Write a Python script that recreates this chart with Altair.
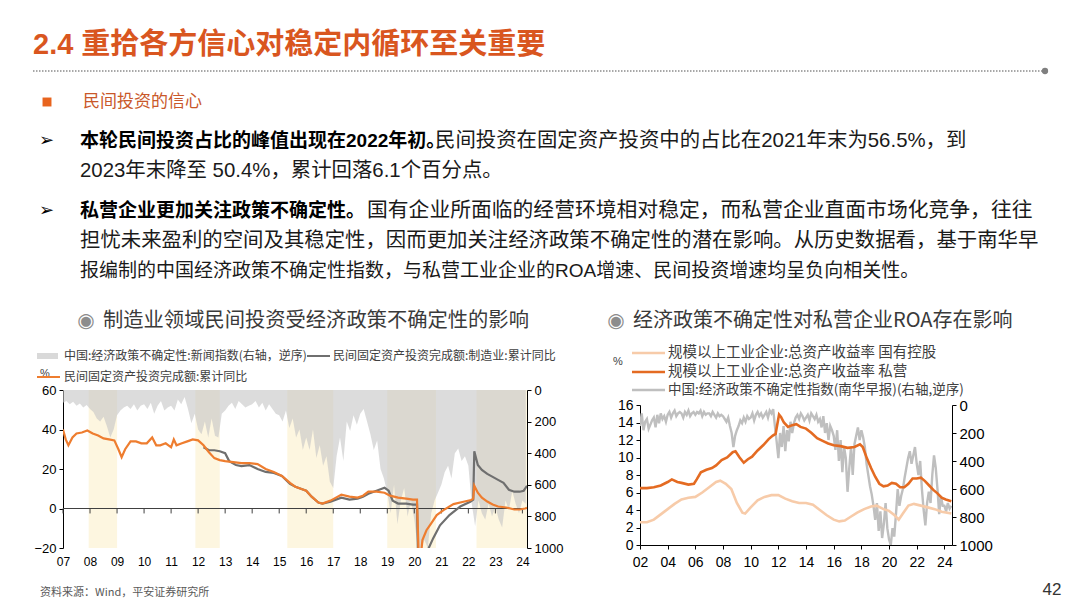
import altair as alt
import pandas as pd

# ---------------- data ----------------
band_start = [2007.95, 2011.9, 2015.3, 2019.0, 2022.3]
band_end = [2009.0, 2012.8, 2017.0, 2020.8, 2024.17]

unc_start, unc_step = 2007.0, 0.125
unc_news = [
    80, 70, 90, 75, 100, 85, 110, 95,
    120, 140, 180, 200, 170, 230, 300, 250,
    160, 130, 110, 100, 120, 90, 130, 100,
    90, 120, 80, 150, 100, 70, 130, 110,
    100, 130, 60, 90, 45, 120, 210, 150,
    250, 280, 200, 300, 180, 290, 300, 150,
    130, 100, 80, 120, 70, 90, 110, 100,
    90, 70, 110, 80, 130, 90, 120, 150,
    160, 200, 130, 240, 180, 300, 250, 380,
    300, 380, 250, 430, 350, 480, 420, 580,
    620, 420, 300, 450, 200, 260, 160, 220,
    150, 120, 200, 280, 380, 320, 500, 560,
    650, 780, 600, 850, 700, 620, 800, 700,
    820, 1000, 1000, 950, 1000, 780, 700, 650,
    600, 520, 480, 560, 400, 370, 450, 420,
    480, 720, 860, 700, 780, 820, 720, 800,
    740, 820, 870, 700, 760, 640, 720, 780,
    700, 720,
]

fai_x = [2007.0, 2007.1, 2007.2, 2007.35, 2007.5, 2007.7, 2007.9, 2008.1, 2008.3, 2008.5,
         2008.7, 2008.9, 2009.05, 2009.17, 2009.3, 2009.5, 2009.7, 2009.9, 2010.1, 2010.3,
         2010.45, 2010.6, 2010.8, 2011.0, 2011.1, 2011.2, 2011.4, 2011.6, 2011.8, 2012.0,
         2012.2, 2012.4, 2012.6, 2012.8, 2013.0, 2013.3, 2013.6, 2013.9, 2014.2, 2014.5,
         2014.8, 2015.1, 2015.4, 2015.6, 2015.8, 2016.0, 2016.2, 2016.45, 2016.6, 2016.9,
         2017.1, 2017.3, 2017.6, 2017.9, 2018.1, 2018.3, 2018.6, 2018.9, 2019.1, 2019.4,
         2019.7, 2019.95, 2020.1, 2020.18, 2020.3, 2020.45, 2020.6, 2020.83, 2021.08, 2021.45,
         2021.82, 2022.1, 2022.18, 2022.22, 2022.35, 2022.5, 2022.7, 2022.9, 2023.1, 2023.4,
         2023.7, 2023.9, 2024.1, 2024.17]
fai_total = [40, 35, 32, 36, 38, 38.5, 39.5, 38, 37, 35.5,
             35, 34.5, 30, 26, 30, 34, 34, 33, 33, 36,
             32, 32, 33, 31, 35, 32, 33, 34, 35, 34.5,
             32, 28.5, 25.5, 24.5, 24, 23.5, 23, 23, 22.5, 20,
             18.5, 16.5, 13, 11, 10, 9, 6, 3, 2.5, 4,
             5.5, 7, 6, 5.5, 6.5, 8.5, 8.5, 8, 6.5, 5.5,
             5, 4.5, 4.5, -33, -16, -11, -8, -3.3, -0.8, 2.2,
             3.4, 4.3, 5, 11.5, 8, 5.5, 3.5, 2, 1, 0.5,
             -0.5, -0.5, 0, 0.3]

manu_x = [2012.2, 2012.4, 2012.6, 2012.8, 2013.0, 2013.15, 2013.4, 2013.6, 2013.9, 2014.2,
          2014.5, 2014.8, 2015.1, 2015.4, 2015.6, 2015.8, 2016.0, 2016.2, 2016.45, 2016.6,
          2016.9, 2017.1, 2017.3, 2017.6, 2017.9, 2018.1, 2018.3, 2018.6, 2018.9, 2019.05,
          2019.2, 2019.4, 2019.7, 2019.95, 2020.1, 2020.15, 2020.3, 2020.5, 2020.7, 2020.95,
          2021.3, 2021.7, 2022.07, 2022.18, 2022.22, 2022.35, 2022.5, 2022.7, 2022.9, 2023.1,
          2023.3, 2023.5, 2023.7, 2023.9, 2024.05, 2024.17]
manu_fai = [31, 29.5, 29.5, 29, 28, 24, 22, 21.5, 22, 20,
            18.5, 18, 16.5, 12.5, 11, 10, 9, 6, 3, 2.5,
            3.5, 4.5, 5.5, 4.5, 5, 6, 7.5, 9, 10.5, 9,
            4, 2.5, 2.5, 2, 2, -33, -30, -21, -15, -8.5,
            -3.3, 1, 3.4, 4.5, 29, 22, 19.5, 17.5, 16, 14.5,
            13, 9.5, 8.5, 8.5, 9, 11.5]

roa_pri_x = [2002.0, 2002.5, 2003.0, 2003.5, 2004.0, 2004.3, 2004.7, 2005.0, 2005.5, 2005.9,
             2006.1, 2006.4, 2006.8, 2007.2, 2007.5, 2007.9, 2008.3, 2008.7, 2008.9, 2009.2,
             2009.5, 2009.8, 2010.1, 2010.5, 2010.9, 2011.3, 2011.6, 2011.8, 2012.05, 2012.2,
             2012.4, 2012.7, 2013.0, 2013.3, 2013.6, 2014.0, 2014.4, 2014.8, 2015.2, 2015.6,
             2016.0, 2016.5, 2017.0, 2017.5, 2017.9, 2018.1, 2018.4, 2018.7, 2019.0, 2019.3,
             2019.6, 2019.9, 2020.2, 2020.5, 2020.8, 2021.1, 2021.4, 2021.7, 2022.0, 2022.3,
             2022.6, 2022.9, 2023.2, 2023.5, 2023.8, 2024.1, 2024.5]
roa_private = [6.5, 6.5, 6.6, 6.8, 7.2, 7.5, 7.2, 7.1, 6.9, 7.0,
               7.5, 8.3, 8.6, 8.8, 9.1, 9.7, 10.0, 10.6, 10.7, 10.0,
               9.4, 9.8, 10.1, 10.8, 11.4, 12.1, 12.5, 12.7, 14.9, 14.6,
               14.0, 13.5, 13.7, 13.8, 13.5, 13.3, 12.8, 12.2, 11.9, 11.6,
               11.4, 11.3, 11.1, 11.2, 11.5, 11.2, 9.9, 8.8, 7.8, 7.0,
               6.7, 6.8, 7.1, 7.0, 6.6, 6.6, 7.0, 7.6, 7.6, 7.7,
               7.3, 6.8, 6.3, 5.9, 5.4, 5.2, 5.0]
roa_soe_x = [2002.0, 2002.5, 2003.0, 2003.5, 2004.0, 2004.5, 2005.0, 2005.5, 2006.0, 2006.5,
             2007.0, 2007.5, 2007.8, 2008.2, 2008.6, 2009.0, 2009.4, 2009.6, 2010.0, 2010.5,
             2011.0, 2011.5, 2012.0, 2012.5, 2013.0, 2013.5, 2014.0, 2014.5, 2015.0, 2015.5,
             2016.0, 2016.4, 2016.8, 2017.2, 2017.7, 2018.2, 2018.7, 2019.1, 2019.6, 2020.0,
             2020.4, 2020.7, 2021.0, 2021.4, 2021.8, 2022.3, 2022.8, 2023.3, 2023.8, 2024.5]
roa_soe = [2.6, 2.6, 2.9, 3.5, 4.1, 4.7, 5.2, 5.4, 5.5, 6.0,
           6.6, 7.2, 7.35, 7.0, 6.4, 4.8, 3.7, 3.6, 4.3, 5.1,
           5.5, 5.7, 5.7, 5.3, 5.0, 4.8, 4.8, 4.6, 4.0, 3.4,
           2.9, 2.7, 2.8, 3.2, 3.7, 4.1, 4.4, 4.5, 4.1, 3.9,
           3.4, 2.9, 3.6, 4.5, 4.7, 4.5, 4.3, 4.1, 3.8, 3.6]

scmp_start, scmp_step = 2002.0, 0.125
scmp_epu = [
    150, 60, 180, 120, 100, 170, 140, 110,
    90, 160, 70, 130, 60, 100, 80, 120,
    70, 50, 90, 60, 40, 80, 60, 50,
    60, 90, 50, 70, 40, 80, 60, 50,
    70, 50, 60, 40, 80, 50, 70, 60,
    60, 80, 50, 70, 90, 60, 80, 70,
    80, 100, 120, 90, 150, 200, 300, 220,
    180, 150, 110, 130, 90, 120, 80, 100,
    90, 60, 110, 70, 50, 80, 60, 90,
    70, 50, 90, 40, 60, 30, 150, 260,
    380, 200, 300, 150, 330, 180, 260, 120,
    200, 130, 90, 70, 100, 60, 80, 110,
    90, 70, 110, 60, 80, 100, 70, 120,
    100, 160, 80, 200, 130, 250, 150, 180,
    220, 320, 180, 400, 250, 480, 300, 380,
    620, 450, 300, 500, 280, 220, 160, 250,
    180, 230, 300, 420, 500, 580, 640, 720,
    820, 700, 900, 760, 950, 850, 700, 880,
    960, 1000, 880, 940, 780, 600, 720, 650,
    600, 520, 450, 380, 330, 420, 360, 300,
    420, 500, 400, 600, 750, 860, 700, 620,
    700, 500, 360, 450, 600, 780, 650, 720,
    720, 760, 700, 740, 720,
]

left_years = list(range(2007, 2025))
right_years = list(range(2002, 2025, 2))

# ---------------- tables ----------------
band_df = pd.DataFrame({"start": band_start, "end": band_end})
unc_df = pd.DataFrame({"x": [unc_start + i * unc_step for i in range(len(unc_news))], "v": unc_news})
fai_df = pd.DataFrame({"x": fai_x, "v": fai_total})
manu_df = pd.DataFrame({"x": manu_x, "v": manu_fai})
lyr_df = pd.DataFrame({"yr": left_years})
pri_df = pd.DataFrame({"x": roa_pri_x, "v": roa_private})
soe_df = pd.DataFrame({"x": roa_soe_x, "v": roa_soe})
scmp_df = pd.DataFrame({"x": [scmp_start + i * scmp_step for i in range(len(scmp_epu))], "v": scmp_epu})
DUMMY = pd.DataFrame({"a": [0]})

# ---------------- styles ----------------
CJK = "Noto Sans CJK SC"
BODY = "Liberation Sans, Noto Sans CJK SC"
AX = "Liberation Sans"
SYM = "DejaVu Sans"
ORANGE_T = "#D9561F"


def T(text, x, y, size, color="#000000", weight="normal", align="left", font=BODY):
    return alt.Chart(DUMMY).mark_text(
        text=text, align=align, baseline="middle", font=font, fontSize=size,
        fontWeight=weight, color=color
    ).encode(x=alt.value(x), y=alt.value(y))


def R(x1, x2, y, color, width, dash=None):
    kw = dict(color=color, strokeWidth=width)
    if dash:
        kw["strokeDash"] = dash
    return alt.Chart(DUMMY).mark_rule(**kw).encode(x=alt.value(x1), x2=alt.value(x2), y=alt.value(y))


# header origin sits above the left plot's left edge (page x 63, page y 8)
HX, HY = 63, 8
header = alt.layer(
    T("2.4 重拾各方信心对稳定内循环至关重要", 33 - HX, 45 - HY, 29, ORANGE_T, "bold"),
    R(33 - HX, 1045 - HX, 71 - HY, "#8c8c8c", 1.5, [1.5, 1.5]),
    alt.Chart(DUMMY).mark_circle(color="#7f7f7f", size=40, opacity=1).encode(
        x=alt.value(1045 - HX), y=alt.value(71 - HY)),
    alt.Chart(DUMMY).mark_square(color="#E8641E", size=80, opacity=1).encode(
        x=alt.value(47 - HX), y=alt.value(102 - HY)),
    T("民间投资的信心", 83 - HX, 102 - HY, 17, "#C9582A", font=CJK),
    T("➢", 39 - HX, 141 - HY, 18, "#000000", font=SYM),
    T("本轮民间投资占比的峰值出现在2022年初。", 80 - HX, 141 - HY, 19, "#000000", "bold"),
    T("民间投资在固定资产投资中的占比在2021年末为56.5%，到", 435 - HX, 141 - HY, 20.4, "#1a1a1a"),
    T("2023年末降至 50.4%，累计回落6.1个百分点。", 80 - HX, 171 - HY, 20.4, "#1a1a1a"),
    T("➢", 39 - HX, 211 - HY, 18, "#000000", font=SYM),
    T("私营企业更加关注政策不确定性。", 80 - HX, 211 - HY, 19, "#000000", "bold"),
    T("国有企业所面临的经营环境相对稳定，而私营企业直面市场化竞争，往往", 367 - HX, 211 - HY, 20.8, "#1a1a1a"),
    T("担忧未来盈利的空间及其稳定性，因而更加关注经济政策不确定性的潜在影响。从历史数据看，基于南华早",
      80 - HX, 241 - HY, 20.4, "#1a1a1a"),
    T("报编制的中国经济政策不确定性指数，与私营工业企业的ROA增速、民间投资增速均呈负向相关性。",
      80 - HX, 271 - HY, 19, "#1a1a1a"),
).properties(width=900, height=303)

# ---------------- left panel (plot origin at page 63, 390) ----------------
LX, LY = 63, 390
W1, H1 = 464, 158
xl_scale = alt.Scale(domain=[2007, 2024.17], nice=False, zero=False)
xl_axis = alt.Axis(values=left_years, labelExpr="format(datum.value - 2000, '02d')", domain=False,
                   ticks=False, grid=False, labelFont="Liberation Sans Narrow, Liberation Sans",
                   labelFontSize=12, labelColor="#000000", labelPadding=8, labelOverlap=False,
                   labelFlush=False, title=None)


def XL(field):
    return alt.X(field, type="quantitative", scale=xl_scale, axis=xl_axis)


yl_scale = alt.Scale(domain=[-20, 60], nice=False, zero=False)
yl_axis = alt.Axis(orient="left", values=[-20, 0, 20, 40, 60], grid=False, domainColor="#000000",
                   tickColor="#000000", tickSize=4, labelFont=AX, labelFontSize=13, labelColor="#000000",
                   labelPadding=3, minExtent=55, labelOverlap=False, format="d", title=None)
yr_scale = alt.Scale(domain=[0, 1000], reverse=True, nice=False, zero=False)
yr_axis = alt.Axis(orient="right", values=[0, 200, 400, 600, 800, 1000], grid=False, domainColor="#000000",
                   tickColor="#000000", tickSize=4, labelFont=AX, labelFontSize=13, labelColor="#000000",
                   labelPadding=3, minExtent=45, labelOverlap=False, format="d", title=None)

bands = alt.Chart(band_df).transform_calculate(b0="0", b1="1000").mark_rect(
    color="#FCEFC7", opacity=0.55).encode(
    x=XL("start"), x2="end",
    y=alt.Y("b0:Q", scale=yr_scale, axis=yr_axis), y2="b1:Q")
unc_area = alt.Chart(unc_df).transform_calculate(z="0").mark_area(
    color="#C4C4C4", opacity=0.6, interpolate="linear").encode(
    x=XL("x"), y=alt.Y("v:Q", scale=yr_scale, axis=yr_axis), y2="z:Q")
group_l1 = alt.layer(bands, unc_area)

zero_rule = alt.Chart(DUMMY).transform_calculate(z="0").mark_rule(color="#404040", strokeWidth=1).encode(
    y=alt.Y("z:Q", scale=yl_scale, axis=yl_axis))
year_ticks = alt.Chart(lyr_df).transform_calculate(z0="0", z1="-2.5").mark_rule(
    color="#404040", strokeWidth=1).encode(
    x=XL("yr"), y=alt.Y("z0:Q", scale=yl_scale, axis=yl_axis), y2="z1:Q")
manu_line = alt.Chart(manu_df).mark_line(color="#6F6F6F", strokeWidth=2.2, clip=True).encode(
    x=XL("x"), y=alt.Y("v:Q", scale=yl_scale, axis=yl_axis))
fai_line = alt.Chart(fai_df).mark_line(color="#EE7D2F", strokeWidth=2.2, clip=True).encode(
    x=XL("x"), y=alt.Y("v:Q", scale=yl_scale, axis=yl_axis))

left_texts = [
    T("◉", 86 - LX, 321 - LY, 20, "#8c8c8c", font=SYM, align="center"),
    T("制造业领域民间投资受经济政策不确定性的影响", 103 - LX, 321 - LY, 20.3, "#3a3a3a", font=CJK),
    R(37 - LX, 58 - LX, 356 - LY, "#D9D9D9", 6),
    T("中国:经济政策不确定性:新闻指数(右轴，逆序)", 64 - LX, 356 - LY, 12, "#404040", font=CJK),
    R(307 - LX, 330 - LX, 356 - LY, "#6F6F6F", 2),
    T("民间固定资产投资完成额:制造业:累计同比", 333 - LX, 356 - LY, 12, "#404040", font=CJK),
    T("%", 40 - LX, 374 - LY, 11, "#404040", font=AX),
    R(37 - LX, 60 - LX, 377 - LY, "#EE7D2F", 2),
    T("民间固定资产投资完成额:累计同比", 64 - LX, 377 - LY, 12, "#404040", font=CJK),
    T("资料来源：Wind，平安证券研究所", 40 - LX, 593 - LY, 11, "#595959", font=CJK),
]
group_l2 = alt.layer(zero_rule, year_ticks, manu_line, fai_line, *left_texts)

left_panel = alt.layer(group_l1, group_l2).resolve_scale(y="independent").properties(width=W1, height=H1)

# ---------------- right panel (plot origin at page 640, 390; data area 405..545) ----------------
RX, RY = 640, 390
W2, H2 = 312, 155
xr_scale = alt.Scale(domain=[2002, 2024.55], nice=False, zero=False)
xr_axis = alt.Axis(values=right_years, labelExpr="format(datum.value - 2000, '02d')", domain=True,
                   domainColor="#000000", ticks=True, tickColor="#000000", tickSize=4, grid=False,
                   labelFont=AX, labelFontSize=14, labelColor="#000000", labelPadding=6,
                   labelOverlap=False, labelFlush=False, title=None)


def XR(field):
    return alt.X(field, type="quantitative", scale=xr_scale, axis=xr_axis)


y2l_scale = alt.Scale(domain=[0, 16], range=[155, 15], nice=False, zero=False)
y2l_axis = alt.Axis(orient="left", values=list(range(0, 17, 2)), grid=False, domainColor="#000000",
                    tickColor="#000000", tickSize=4, labelFont=AX, labelFontSize=14, labelColor="#000000",
                    labelPadding=3, minExtent=48, labelOverlap=False, format="d", title=None)
y2r_scale = alt.Scale(domain=[0, 1000], range=[15, 155], nice=False, zero=False)
y2r_axis = alt.Axis(orient="right", values=[0, 200, 400, 600, 800, 1000], grid=False, domainColor="#000000",
                    tickColor="#000000", tickSize=4, labelFont=AX, labelFontSize=15, labelColor="#000000",
                    labelPadding=3, minExtent=45, labelOverlap=False, format="d", title=None)

scmp_line = alt.Chart(scmp_df).mark_line(color="#BFBFBF", strokeWidth=2.4, clip=True).encode(
    x=XR("x"), y=alt.Y("v:Q", scale=y2r_scale, axis=y2r_axis))
group_r1 = alt.layer(scmp_line)

soe_line = alt.Chart(soe_df).mark_line(color="#F7CBA9", strokeWidth=2.6).encode(
    x=XR("x"), y=alt.Y("v:Q", scale=y2l_scale, axis=y2l_axis))
pri_line = alt.Chart(pri_df).mark_line(color="#E46B22", strokeWidth=2.6).encode(
    x=XR("x"), y=alt.Y("v:Q", scale=y2l_scale, axis=y2l_axis))

right_texts = [
    T("◉", 616 - RX, 321 - RY, 20, "#8c8c8c", font=SYM, align="center"),
    T("经济政策不确定性对私营企业ROA存在影响", 633 - RX, 321 - RY, 20, "#3a3a3a", font=CJK),
    T("%", 613 - RX, 362 - RY, 11, "#404040", font=AX),
    R(632 - RX, 665 - RX, 353 - RY, "#F7CBA9", 2.5),
    T("规模以上工业企业:总资产收益率 国有控股", 668 - RX, 353 - RY, 14.5, "#404040", font=CJK),
    R(632 - RX, 665 - RX, 372 - RY, "#E46B22", 2.5),
    T("规模以上工业企业:总资产收益率 私营", 668 - RX, 372 - RY, 14.5, "#404040", font=CJK),
    R(632 - RX, 665 - RX, 390 - RY, "#BFBFBF", 2.5),
    T("中国:经济政策不确定性指数(南华早报)(右轴,逆序)", 668 - RX, 390 - RY, 13.5, "#404040", font=CJK),
    T("42", 1052 - RX, 590 - RY, 17, "#333333", font=AX, align="center"),
]
group_r2 = alt.layer(soe_line, pri_line, *right_texts)

right_panel = alt.layer(group_r1, group_r2).resolve_scale(y="independent").properties(width=W2, height=H2)

# ---------------- compose ----------------
chart = alt.vconcat(
    header,
    alt.hconcat(left_panel, right_panel, spacing=20),
    spacing=0,
).properties(padding={"left": 0, "top": 0, "right": 0, "bottom": 0}).configure_view(
    strokeWidth=0).configure_axis(labelOverlap=False)

chart.save("out.html", embed_options={"renderer": "svg", "actions": False})
